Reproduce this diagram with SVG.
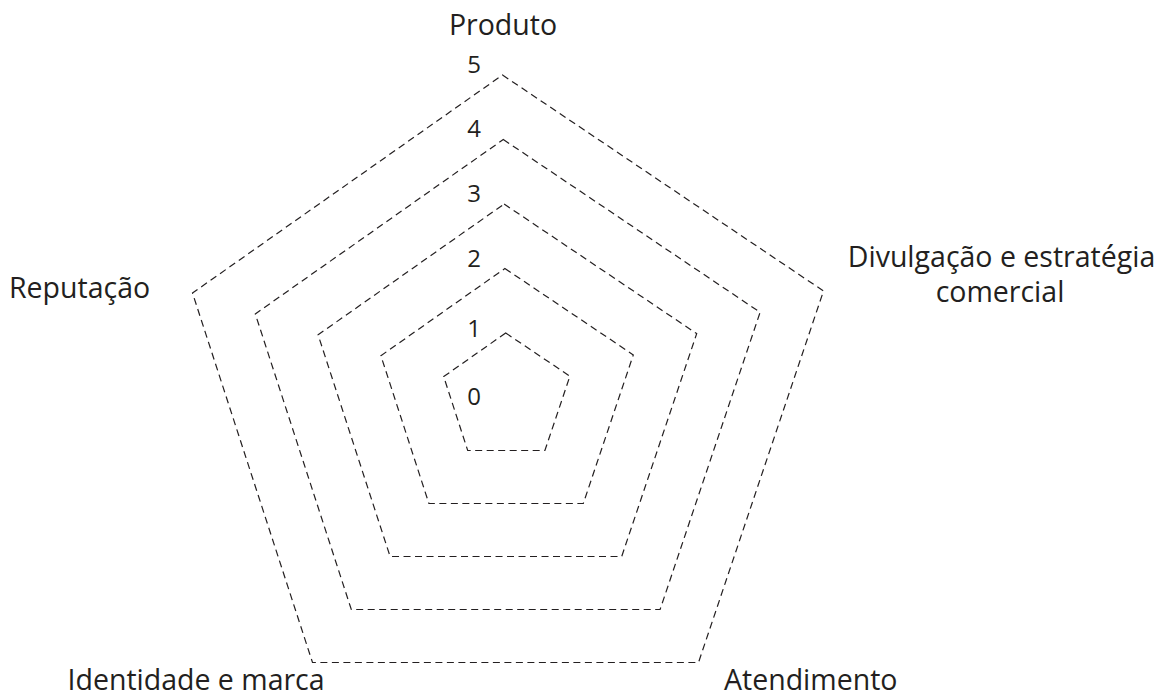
<svg xmlns="http://www.w3.org/2000/svg" width="1174" height="696" viewBox="0 0 1174 696">
  <style>
    .ring { fill: none; stroke: #231f20; stroke-width: 1.2; stroke-dasharray: 7 4.5; stroke-linejoin: miter; }
    .axis { font-family: "Open Sans", "Noto Sans", "Liberation Sans", sans-serif; font-size: 28.5px; fill: #231f20; }
    .tick { font-family: "Open Sans", "Noto Sans", "Liberation Sans", sans-serif; font-size: 24px; fill: #231f20; text-anchor: middle; }
  </style>
  <rect width="1174" height="696" fill="#ffffff"/>
  <g id="grid">
    <polygon id="ring-1" class="ring" points="505.7,333 569.9,376.2 544.9,450.5 467.7,450.5 443.7,376.6"/>
    <polygon id="ring-2" class="ring" points="504.9,268.5 633.3,354.9 583.3,503.5 428.9,503.5 380.9,355.7"/>
    <polygon id="ring-3" class="ring" points="504.1,204 696.7,333.6 621.7,556.5 390.1,556.5 318.1,334.8"/>
    <polygon id="ring-4" class="ring" points="503.3,139.5 760.1,312.3 660.1,609.5 351.3,609.5 255.3,313.9"/>
    <polygon id="ring-5" class="ring" points="502.5,75 823.5,291 698.5,662.5 312.5,662.5 192.5,293"/>
  </g>
  <g id="ticks">
    <text class="tick" x="474" y="405">0</text>
    <text class="tick" x="474" y="337">1</text>
    <text class="tick" x="474" y="267">2</text>
    <text class="tick" x="474" y="202">3</text>
    <text class="tick" x="474" y="137">4</text>
    <text class="tick" x="474" y="73">5</text>
  </g>
  <g id="node-produto">
    <text class="axis" x="503" y="35" text-anchor="middle">Produto</text>
  </g>
  <g id="node-divulgacao">
    <text class="axis" x="1001.5" y="266.7" text-anchor="middle">Divulgação e estratégia</text>
    <text class="axis" x="1000" y="301.7" text-anchor="middle">comercial</text>
  </g>
  <g id="node-atendimento">
    <text class="axis" x="724" y="689.5">Atendimento</text>
  </g>
  <g id="node-identidade">
    <text class="axis" x="67.5" y="690">Identidade e marca</text>
  </g>
  <g id="node-reputacao">
    <text class="axis" x="9" y="298.3">Reputação</text>
  </g>
</svg>
